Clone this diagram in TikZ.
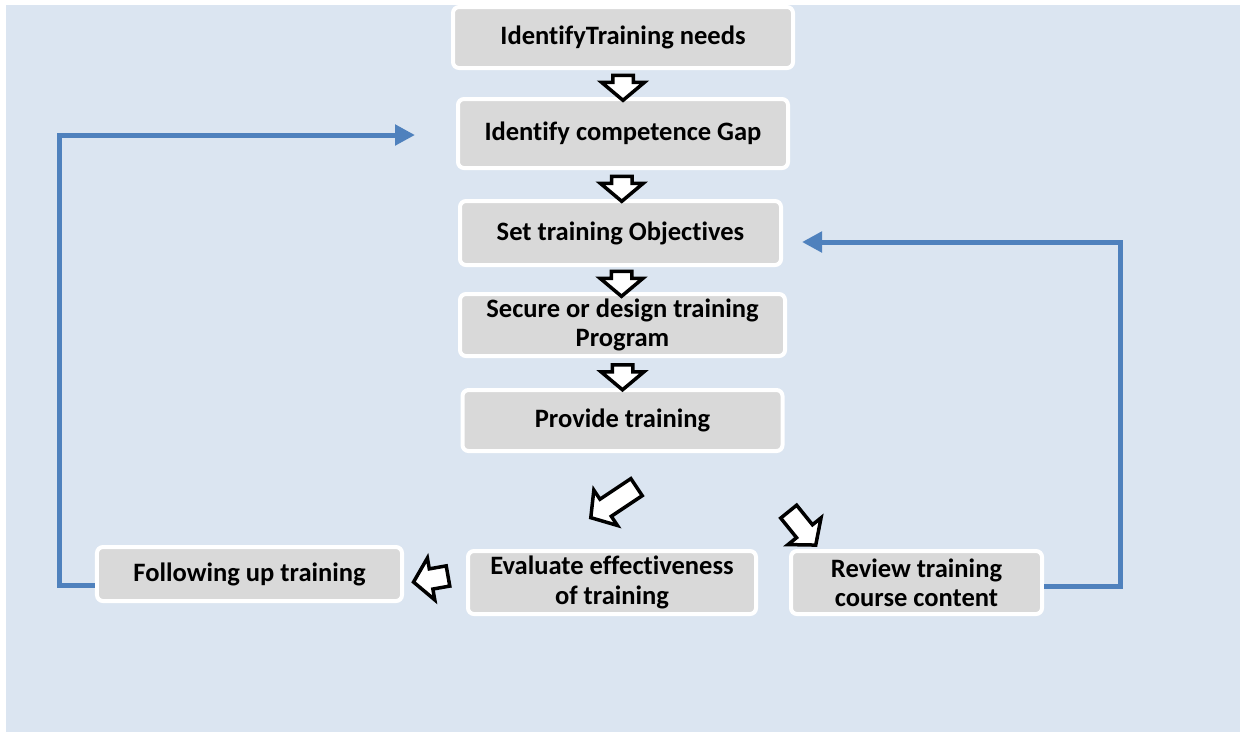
\documentclass[tikz,border=0pt]{standalone}
\usepackage{fontspec}
\setmainfont{Carlito}[Ligatures=NoCommon]
\usetikzlibrary{arrows.meta,positioning,calc,shapes.arrows}

\definecolor{paneblue}{RGB}{219,229,241}
\definecolor{boxgray}{RGB}{217,217,217}
\definecolor{loopblue}{RGB}{79,129,189}

\begin{document}
\begin{tikzpicture}[
  x=0.2mm, y=-0.2mm,
  font=\bfseries\fontsize{15.1}{16.6}\selectfont,
  stepbox/.style={
    rectangle,
    rounded corners=1.2mm,
    draw=white,
    line width=.8mm,
    fill=boxgray,
    align=center,
    inner sep=0pt
  },
  hollow/.style={
    single arrow,
    draw=black,
    fill=white,
    line width=.7mm,
    inner xsep=0pt,
    inner ysep=1.7mm,
    single arrow head extend=2.2mm,
    single arrow tip angle=100,
    minimum height=5mm
  },
  feedback/.style={draw=loopblue, line width=1mm, -{Triangle[length=4mm,width=4mm]}}
]

\useasboundingbox (0,0) rectangle (1243,732);
\fill[paneblue] (6,5) rectangle (1240,732);

% main column
\node[stepbox, minimum width=68mm, minimum height=12.2mm] (need) at (623,37.5)
  {IdentifyTraining needs};
\node[stepbox, minimum width=66mm, minimum height=13.8mm, below=5.4mm of need] (gap)
  {Identify competence Gap};
\node[stepbox, minimum width=64.2mm, minimum height=12.8mm, below=5.8mm of gap, xshift=-.5mm] (obj)
  {Set training Objectives};
\node[stepbox, minimum width=65mm, minimum height=12.4mm, below=5mm of obj, xshift=.4mm] (prog)
  {Secure or design training\\Program};
\node[stepbox, minimum width=64mm, minimum height=12.2mm, below=6mm of prog] (prov)
  {Provide training};

% bottom row
\node[stepbox, minimum width=57.6mm, minimum height=12.6mm] (eval) at (612,582.5)
  {Evaluate effectiveness\\of training};
\node[stepbox, minimum width=61mm, minimum height=10.8mm, left=12.4mm of eval, yshift=1.7mm] (follow)
  {Following up training};
\node[stepbox, minimum width=50.2mm, minimum height=12.6mm, right=6.2mm of eval] (rev)
  {Review training\\course content};

% block arrows
\node[hollow, rotate=-90] (a1) at ($(need.south)!.5!(gap.north)$) {};
\node[hollow, rotate=-90] (a2) at ($(gap.south)!.5!(obj.north)$) {};
\node[hollow, rotate=-90] (a3) at ($(obj.south)!.5!(prog.north)$) {};
\node[hollow, rotate=-90] (a4) at ($(prog.south)!.5!(prov.north)$) {};
\node[hollow, rotate=213.7, minimum height=11mm] (a5) at ($(prov.south)!.5!(eval.north)+(0,-1)$) {};
\node[hollow, rotate=-51, minimum height=8.6mm] (a6) at ($(prov.south)!.5!(rev.north)+(30,24)$) {};
\node[hollow, rotate=190, minimum height=7mm] (a7) at ($(eval.west)!.5!(follow.east)$) {};

% feedback loops
\coordinate (gapin) at ($(gap.west)+(-41,1.5)$);
\coordinate (objin) at ($(obj.east)+(19,9)$);
\draw[feedback] ($(follow.west)+(0,11)$) -- ++(-35,0) |- (gapin);
\draw[feedback] ($(rev.east)+(0,3.5)$) -- ++(76,0) |- (objin);
\end{tikzpicture}
\end{document}
